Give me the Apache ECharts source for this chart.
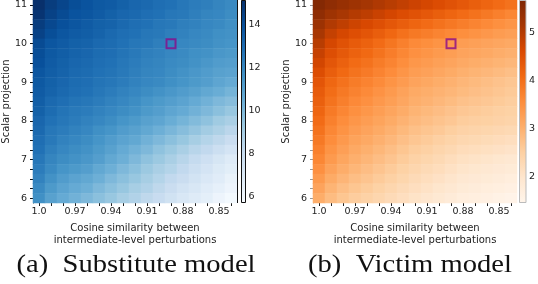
<!DOCTYPE html>
<html><head><meta charset="utf-8">
<script src="https://cdn.jsdelivr.net/npm/echarts@6/dist/echarts.min.js"></script>
<style>html,body{margin:0;padding:0;background:#fff}#c{width:538px;height:284px}</style>
</head><body><div id="c"></div>
<script>
// cosine similarity categories (columns, left to right)
const xCategories = ['1.0','0.99','0.98','0.97','0.96','0.95','0.94','0.93','0.92','0.91','0.90','0.89','0.88','0.87','0.86','0.85','0.84'];
// scalar projection categories (rows, bottom to top)
const yCategories = ['6','6.25','6.5','6.75','7','7.25','7.5','7.75','8','8.25','8.5','8.75','9','9.25','9.5','9.75','10','10.25','10.5','10.75','11'];
// substitute model values, rows listed from top (11) to bottom (6)
const substituteRows = [
 [15.2,14.7,14.4,14.1,13.9,13.7,13.6,13.4,13.2,13.1,12.9,12.8,12.6,12.4,12.3,12.1,11.9],
 [15.0,14.5,14.2,13.9,13.8,13.6,13.4,13.2,13.1,12.9,12.8,12.6,12.5,12.3,12.1,12.0,11.8],
 [14.7,14.3,14.0,13.8,13.6,13.4,13.3,13.1,12.9,12.8,12.6,12.5,12.3,12.2,12.0,11.9,11.7],
 [14.5,14.1,13.8,13.6,13.5,13.3,13.1,12.9,12.8,12.6,12.5,12.3,12.2,12.0,11.9,11.7,11.6],
 [14.2,13.8,13.6,13.4,13.3,13.1,13.0,12.8,12.6,12.5,12.3,12.2,12.0,11.9,11.8,11.6,11.5],
 [14.1,13.7,13.5,13.3,13.2,13.0,12.9,12.7,12.5,12.3,12.2,12.0,11.9,11.7,11.6,11.4,11.3],
 [14.0,13.6,13.4,13.2,13.1,12.9,12.8,12.6,12.4,12.2,12.1,11.9,11.8,11.6,11.4,11.2,11.1],
 [13.8,13.5,13.3,13.1,13.0,12.8,12.7,12.5,12.3,12.1,12.0,11.8,11.6,11.4,11.2,11.0,10.9],
 [13.7,13.4,13.2,13.0,12.9,12.7,12.6,12.4,12.2,12.0,11.9,11.7,11.5,11.3,11.1,10.8,10.6],
 [13.6,13.3,13.1,12.9,12.8,12.6,12.4,12.2,12.0,11.8,11.6,11.4,11.2,11.0,10.7,10.5,10.2],
 [13.5,13.1,12.9,12.7,12.6,12.4,12.2,12.0,11.8,11.5,11.3,11.1,10.9,10.6,10.3,10.0,9.8],
 [13.4,13.0,12.7,12.5,12.4,12.2,12.0,11.8,11.6,11.3,11.1,10.8,10.6,10.3,10.0,9.7,9.4],
 [13.2,12.8,12.6,12.4,12.2,12.0,11.8,11.5,11.3,11.0,10.8,10.5,10.2,9.9,9.6,9.2,8.9],
 [13.1,12.6,12.4,12.2,12.0,11.7,11.5,11.2,11.0,10.7,10.4,10.1,9.8,9.5,9.1,8.8,8.4],
 [12.9,12.5,12.2,12.0,11.8,11.5,11.2,10.9,10.7,10.3,10.0,9.7,9.4,9.0,8.6,8.3,7.9],
 [12.8,12.3,12.0,11.8,11.6,11.3,11.0,10.6,10.3,10.0,9.6,9.3,8.9,8.5,8.2,7.8,7.4],
 [12.6,12.1,11.8,11.6,11.4,11.1,10.7,10.4,10.0,9.6,9.3,8.9,8.5,8.1,7.7,7.3,6.9],
 [12.4,11.9,11.5,11.3,11.1,10.7,10.4,10.0,9.7,9.3,8.9,8.6,8.2,7.8,7.4,7.0,6.7],
 [12.2,11.6,11.2,10.9,10.7,10.4,10.0,9.7,9.4,9.0,8.6,8.2,7.9,7.5,7.1,6.8,6.4],
 [11.9,11.3,10.9,10.6,10.4,10.0,9.7,9.4,9.0,8.7,8.3,7.9,7.5,7.2,6.8,6.5,6.2],
 [11.7,11.0,10.6,10.3,10.0,9.7,9.4,9.0,8.7,8.3,8.0,7.6,7.2,6.9,6.6,6.2,5.9]
];
// victim model values, rows listed from top (11) to bottom (6)
const victimRows = [
 [5.60,5.45,5.35,5.25,5.15,5.05,4.95,4.85,4.75,4.65,4.55,4.45,4.35,4.25,4.15,4.05,3.95],
 [5.45,5.25,5.12,5.00,4.90,4.78,4.66,4.55,4.45,4.35,4.25,4.15,4.05,3.95,3.85,3.75,3.65],
 [5.28,5.03,4.88,4.74,4.62,4.50,4.38,4.26,4.15,4.05,3.95,3.86,3.77,3.68,3.60,3.51,3.43],
 [5.12,4.83,4.65,4.51,4.40,4.26,4.11,3.97,3.85,3.77,3.69,3.61,3.53,3.46,3.39,3.32,3.26],
 [4.95,4.65,4.46,4.31,4.20,4.05,3.90,3.75,3.60,3.53,3.45,3.38,3.30,3.25,3.20,3.15,3.10],
 [4.81,4.52,4.34,4.19,4.08,3.94,3.79,3.65,3.50,3.43,3.35,3.28,3.20,3.15,3.10,3.04,2.99],
 [4.68,4.39,4.21,4.06,3.95,3.81,3.68,3.54,3.40,3.33,3.25,3.18,3.10,3.05,2.99,2.94,2.88],
 [4.54,4.26,4.08,3.94,3.83,3.70,3.57,3.43,3.30,3.23,3.15,3.08,3.00,2.94,2.88,2.82,2.76],
 [4.40,4.12,3.95,3.81,3.70,3.58,3.45,3.33,3.20,3.13,3.05,2.98,2.90,2.84,2.78,2.71,2.65],
 [4.31,4.03,3.85,3.71,3.60,3.47,3.35,3.22,3.09,3.03,2.96,2.90,2.83,2.77,2.71,2.65,2.59],
 [4.23,3.94,3.76,3.61,3.50,3.38,3.27,3.15,3.03,2.96,2.88,2.81,2.73,2.68,2.63,2.58,2.53],
 [4.14,3.84,3.66,3.51,3.40,3.29,3.17,3.06,2.94,2.86,2.79,2.71,2.63,2.59,2.55,2.50,2.46],
 [4.05,3.75,3.56,3.41,3.30,3.19,3.08,2.96,2.85,2.78,2.70,2.63,2.55,2.51,2.48,2.44,2.40],
 [3.95,3.65,3.46,3.31,3.20,3.09,2.98,2.86,2.75,2.67,2.60,2.52,2.44,2.40,2.36,2.32,2.28],
 [3.85,3.55,3.36,3.21,3.10,2.99,2.88,2.76,2.65,2.57,2.49,2.41,2.33,2.29,2.24,2.20,2.15],
 [3.75,3.45,3.26,3.11,3.00,2.89,2.78,2.66,2.55,2.47,2.38,2.30,2.21,2.17,2.12,2.08,2.03],
 [3.65,3.35,3.16,3.01,2.90,2.79,2.68,2.56,2.45,2.36,2.28,2.19,2.10,2.05,2.00,1.95,1.90],
 [3.50,3.22,3.04,2.90,2.79,2.68,2.57,2.46,2.35,2.26,2.18,2.09,2.00,1.95,1.90,1.85,1.80],
 [3.35,3.08,2.91,2.78,2.68,2.57,2.47,2.36,2.25,2.16,2.08,1.99,1.90,1.85,1.80,1.75,1.70],
 [3.20,2.94,2.78,2.66,2.56,2.46,2.35,2.25,2.15,2.06,1.98,1.89,1.80,1.75,1.70,1.65,1.60],
 [3.05,2.81,2.66,2.54,2.45,2.35,2.25,2.15,2.05,1.96,1.88,1.79,1.70,1.65,1.60,1.55,1.50]
];
// highlighted cell (cosine similarity, scalar projection)
const markerCell = ['0.89', '10'];
// colorbar ranges and ticks
const substituteRange = [5.72, 15.16];
const victimRange = [1.44, 5.67];
const substituteTicks = [6, 8, 10, 12, 14];
const victimTicks = [2, 3, 4, 5];
const captions = ['(a)  Substitute model', '(b)  Victim model'];

const Blues = ['#f7fbff','#deebf7','#c6dbef','#9ecae1','#6baed6','#4292c6','#2171b5','#08519c','#08306b'];
const Oranges = ['#fff5eb','#fee6ce','#fdd0a2','#fdae6b','#fd8d3c','#f16913','#d94801','#a63603','#7f2704'];

function toCells(rows) {
  const out = [];
  const n = rows.length;
  rows.forEach((row, r) => row.forEach((v, c) => out.push([c, n - 1 - r, v])));
  return out;
}
function gradient(cmap) {
  const stops = cmap.map((col, i) => ({ offset: 1 - i / (cmap.length - 1), color: col }));
  stops.sort((a, b) => a.offset - b.offset);
  return { type: 'linear', x: 0, y: 0, x2: 0, y2: 1, colorStops: stops };
}

const FONT = 'DejaVu Sans';
const PLOT_TOP = 0, PLOT_H = 203, PLOT_W = 204;
const lefts = [33, 313];
const cbLefts = [241.5, 520.5];

function mainX(gi) {
  return {
    type: 'category', gridIndex: gi, data: xCategories,
    axisLine: { show: false },
    axisTick: { show: true, interval: 0, alignWithLabel: true, length: 3, lineStyle: { color: '#222' } },
    axisLabel: { interval: 2, margin: 4, fontFamily: FONT, fontSize: 9.5, color: '#222' },
    name: 'Cosine similarity between\nintermediate-level perturbations',
    nameLocation: 'middle', nameGap: 20,
    nameTextStyle: { fontFamily: FONT, fontSize: 10, color: '#222', lineHeight: 11.5, verticalAlign: 'top' }
  };
}
function mainY(gi, lineColor) {
  return {
    type: 'category', gridIndex: gi, data: yCategories,
    axisLine: { show: true, lineStyle: { color: lineColor, width: 1 } },
    axisTick: { show: true, interval: 0, alignWithLabel: true, length: 3, lineStyle: { color: lineColor } },
    axisLabel: { interval: 3, margin: 6, fontFamily: FONT, fontSize: 9.5, color: '#222' },
    name: 'Scalar projection', nameLocation: 'middle', nameGap: 22,
    nameTextStyle: { fontFamily: FONT, fontSize: 10, color: '#222' }
  };
}
function cbY(gi, range, ticks) {
  return {
    type: 'value', gridIndex: gi, position: 'right', min: range[0], max: range[1],
    splitLine: { show: false }, axisLine: { show: false },
    axisTick: { show: true, length: 2, customValues: ticks, lineStyle: { color: '#222' } },
    axisLabel: { margin: 3, customValues: ticks, fontFamily: FONT, fontSize: 9.5, color: '#222' }
  };
}

const chart = echarts.init(document.getElementById('c'), null, { renderer: 'canvas' });
chart.setOption({
  animation: false,
  backgroundColor: '#fff',
  grid: [
    { left: lefts[0], top: PLOT_TOP, width: PLOT_W, height: PLOT_H },
    { left: lefts[1], top: PLOT_TOP, width: PLOT_W, height: PLOT_H },
    { left: cbLefts[0], top: PLOT_TOP, width: 4, height: PLOT_H },
    { left: cbLefts[1], top: PLOT_TOP, width: 5.5, height: PLOT_H }
  ],
  xAxis: [
    mainX(0), mainX(1),
    { type: 'value', gridIndex: 2, show: false },
    { type: 'value', gridIndex: 3, show: false }
  ],
  yAxis: [
    mainY(0, '#111'), mainY(1, '#999'),
    cbY(2, substituteRange, substituteTicks),
    cbY(3, victimRange, victimTicks)
  ],
  visualMap: [
    { type: 'continuous', show: false, seriesIndex: 0, dimension: 2, min: substituteRange[0], max: substituteRange[1], inRange: { color: Blues } },
    { type: 'continuous', show: false, seriesIndex: 1, dimension: 2, min: victimRange[0], max: victimRange[1], inRange: { color: Oranges } }
  ],
  series: [
    { type: 'heatmap', xAxisIndex: 0, yAxisIndex: 0, data: toCells(substituteRows), silent: true },
    { type: 'heatmap', xAxisIndex: 1, yAxisIndex: 1, data: toCells(victimRows), silent: true },
    { type: 'scatter', xAxisIndex: 0, yAxisIndex: 0, data: [markerCell], symbol: 'rect', symbolSize: 9,
      itemStyle: { color: 'rgba(0,0,0,0)', borderColor: '#8a0a8a', borderWidth: 2 }, z: 5, silent: true },
    { type: 'scatter', xAxisIndex: 1, yAxisIndex: 1, data: [markerCell], symbol: 'rect', symbolSize: 9,
      itemStyle: { color: 'rgba(0,0,0,0)', borderColor: '#8a0a8a', borderWidth: 2 }, z: 5, silent: true }
  ],
  graphic: [
    { type: 'line', shape: { x1: 237.5, y1: 0, x2: 237.5, y2: PLOT_H }, style: { stroke: '#111', lineWidth: 1 }, z: 10 },
    { type: 'rect', shape: { x: cbLefts[0], y: 0.5, width: 4, height: PLOT_H - 1 }, style: { fill: gradient(Blues), stroke: '#111', lineWidth: 1 }, z: 10 },
    { type: 'rect', shape: { x: cbLefts[1] - 1, y: 0.5, width: 6.5, height: PLOT_H - 1 }, style: { fill: gradient(Oranges), stroke: '#bbb', lineWidth: 1 }, z: 10 },
    { type: 'text', x: 136, y: 265, scaleX: 1.1, style: { text: captions[0], font: '26px "Liberation Serif"', fill: '#111', textAlign: 'center', textVerticalAlign: 'middle' } },
    { type: 'text', x: 410, y: 265, scaleX: 1.1, style: { text: captions[1], font: '26px "Liberation Serif"', fill: '#111', textAlign: 'center', textVerticalAlign: 'middle' } }
  ]
});
</script></body></html>
